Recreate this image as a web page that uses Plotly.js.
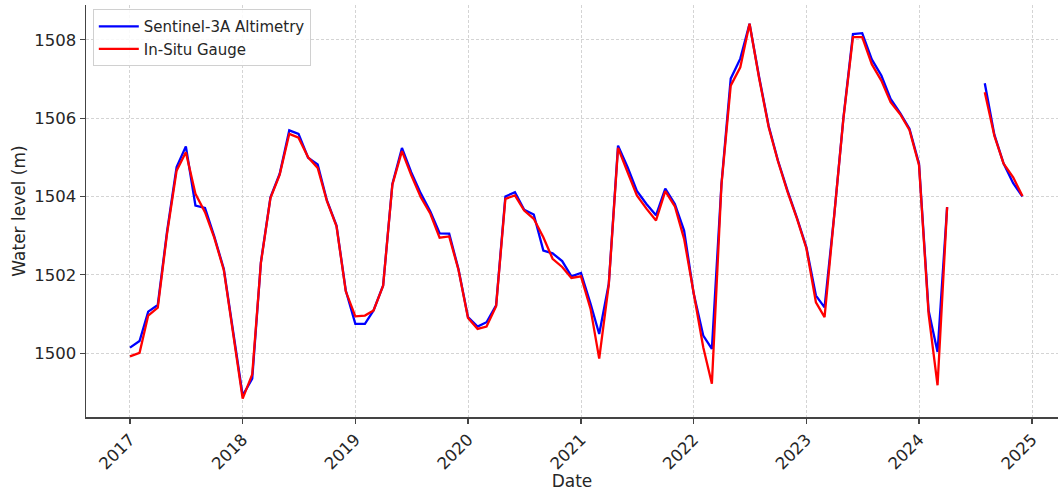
<!DOCTYPE html>
<html>
<head>
<meta charset="utf-8">
<script src="https://cdn.plot.ly/plotly-3.0.1.min.js"></script>
<style>html,body{margin:0;padding:0;background:#fff;}#chart{width:1058px;height:491px;}</style>
</head>
<body>
<div id="chart"></div>
<script>
// Monthly dates 2017-01 .. 2024-12
const startYear = 2017;
const months = 96;
const dates = [];
for (let i = 0; i < months; i++) {
  const y = startYear + Math.floor(i / 12);
  const m = (i % 12) + 1;
  dates.push(y + '-' + String(m).padStart(2, '0') + '-01');
}

const sentinel = [
  1500.14, 1500.31, 1501.06, 1501.23, 1503.10, 1504.75, 1505.28, 1503.77, 1503.71, 1502.98, 1502.15, 1500.50,
  1498.92, 1499.35, 1502.32, 1503.98, 1504.58, 1505.69, 1505.60, 1504.99, 1504.82, 1503.90, 1503.26, 1501.60,
  1500.75, 1500.75, 1501.09, 1501.73, 1504.32, 1505.24, 1504.62, 1504.08, 1503.62, 1503.06, 1503.05, 1502.15,
  1500.92, 1500.68, 1500.79, 1501.22, 1504.00, 1504.11, 1503.66, 1503.54, 1502.62, 1502.55, 1502.35, 1501.96,
  1502.05, 1501.26, 1500.49, 1501.77, 1505.30, 1504.75, 1504.14, 1503.81, 1503.52, 1504.20, 1503.81, 1503.13,
  1501.52, 1500.45, 1500.11, 1504.32, 1507.01, 1507.52, 1508.41, 1507.05, 1505.80, 1504.92, 1504.15, 1503.47,
  1502.71, 1501.47, 1501.17, 1503.50, 1506.00, 1508.15, 1508.17, 1507.50, 1507.09, 1506.49, 1506.13, 1505.73,
  1504.84, 1501.09, 1500.03, 1503.73, null, null, null, 1506.89, 1505.58, 1504.84, 1504.34, 1504.00
];

const inSitu = [
  1499.92, 1500.01, 1500.96, 1501.16, 1503.05, 1504.66, 1505.13, 1504.07, 1503.60, 1502.95, 1502.12, 1500.45,
  1498.84, 1499.46, 1502.30, 1503.96, 1504.56, 1505.60, 1505.50, 1505.00, 1504.73, 1503.88, 1503.24, 1501.58,
  1500.94, 1500.96, 1501.09, 1501.72, 1504.30, 1505.16, 1504.55, 1503.98, 1503.56, 1502.95, 1502.98, 1502.13,
  1500.90, 1500.62, 1500.68, 1501.20, 1503.94, 1504.03, 1503.64, 1503.43, 1502.96, 1502.41, 1502.20, 1501.92,
  1501.96, 1501.13, 1499.86, 1501.75, 1505.24, 1504.62, 1504.03, 1503.69, 1503.39, 1504.14, 1503.75, 1502.92,
  1501.50, 1500.15, 1499.22, 1504.30, 1506.83, 1507.30, 1508.41, 1507.02, 1505.77, 1504.90, 1504.12, 1503.45,
  1502.68, 1501.30, 1500.92, 1503.48, 1505.98, 1508.07, 1508.07, 1507.38, 1506.96, 1506.41, 1506.10, 1505.70,
  1504.80, 1501.00, 1499.18, 1503.73, null, null, null, 1506.66, 1505.55, 1504.84, 1504.49, 1504.01
];

const yearTicks = ['2017','2018','2019','2020','2021','2022','2023','2024','2025'];
const yTicks = [1500, 1502, 1504, 1506, 1508];

function fmt(ms) {
  return new Date(ms).toISOString().replace('T', ' ').replace('Z', '');
}
const DAY = 86400000;
const t2017 = Date.UTC(2017, 0, 1);
const xRange = [fmt(t2017 - 142.5 * DAY), fmt(Date.UTC(2025, 0, 1) + 84.2 * DAY)];

const font = 'DejaVu Sans, sans-serif';
const traces = [
  {x: dates, y: sentinel, type: 'scatter', mode: 'lines', name: 'Sentinel-3A Altimetry',
   line: {color: '#0000ff', width: 2.3}, connectgaps: false},
  {x: dates, y: inSitu, type: 'scatter', mode: 'lines', name: 'In-Situ Gauge',
   line: {color: '#ff0000', width: 2.3}, connectgaps: false}
];

const axisCommon = {
  showline: true, linecolor: '#444', linewidth: 1.5,
  ticks: 'outside', ticklen: 5, tickwidth: 1.2, tickcolor: '#444',
  showgrid: true, gridcolor: '#d4d4d4', gridwidth: 1, griddash: '3px,2px',
  zeroline: false, mirror: false,
  tickfont: {family: font, size: 16.5, color: '#262626'}
};

const layout = {
  width: 1058, height: 491,
  margin: {l: 86, r: 0, t: 5, b: 74},
  paper_bgcolor: '#ffffff', plot_bgcolor: '#ffffff',
  showlegend: true,
  legend: {
    x: 0.007, y: 0.99, xanchor: 'left', yanchor: 'top',
    itemwidth: 40, tracegroupgap: 0,
    bgcolor: 'rgba(255,255,255,0.85)', bordercolor: '#d0d0d0', borderwidth: 1,
    font: {family: font, size: 15, color: '#262626'}
  },
  xaxis: Object.assign({}, axisCommon, {
    type: 'date', range: xRange,
    tickmode: 'array', tickvals: yearTicks.map(y => y + '-01-01'), ticktext: yearTicks,
    tickangle: -45,
    title: {text: 'Date', font: {family: font, size: 17, color: '#262626'}, standoff: 10}
  }),
  yaxis: Object.assign({}, axisCommon, {
    range: [1498.37, 1508.89],
    tickmode: 'array', tickvals: yTicks, ticktext: yTicks.map(String),
    title: {text: 'Water level (m)', font: {family: font, size: 17, color: '#262626'}, standoff: 4}
  })
};

Plotly.newPlot('chart', traces, layout, {staticPlot: true, displayModeBar: false});
</script>
</body>
</html>
